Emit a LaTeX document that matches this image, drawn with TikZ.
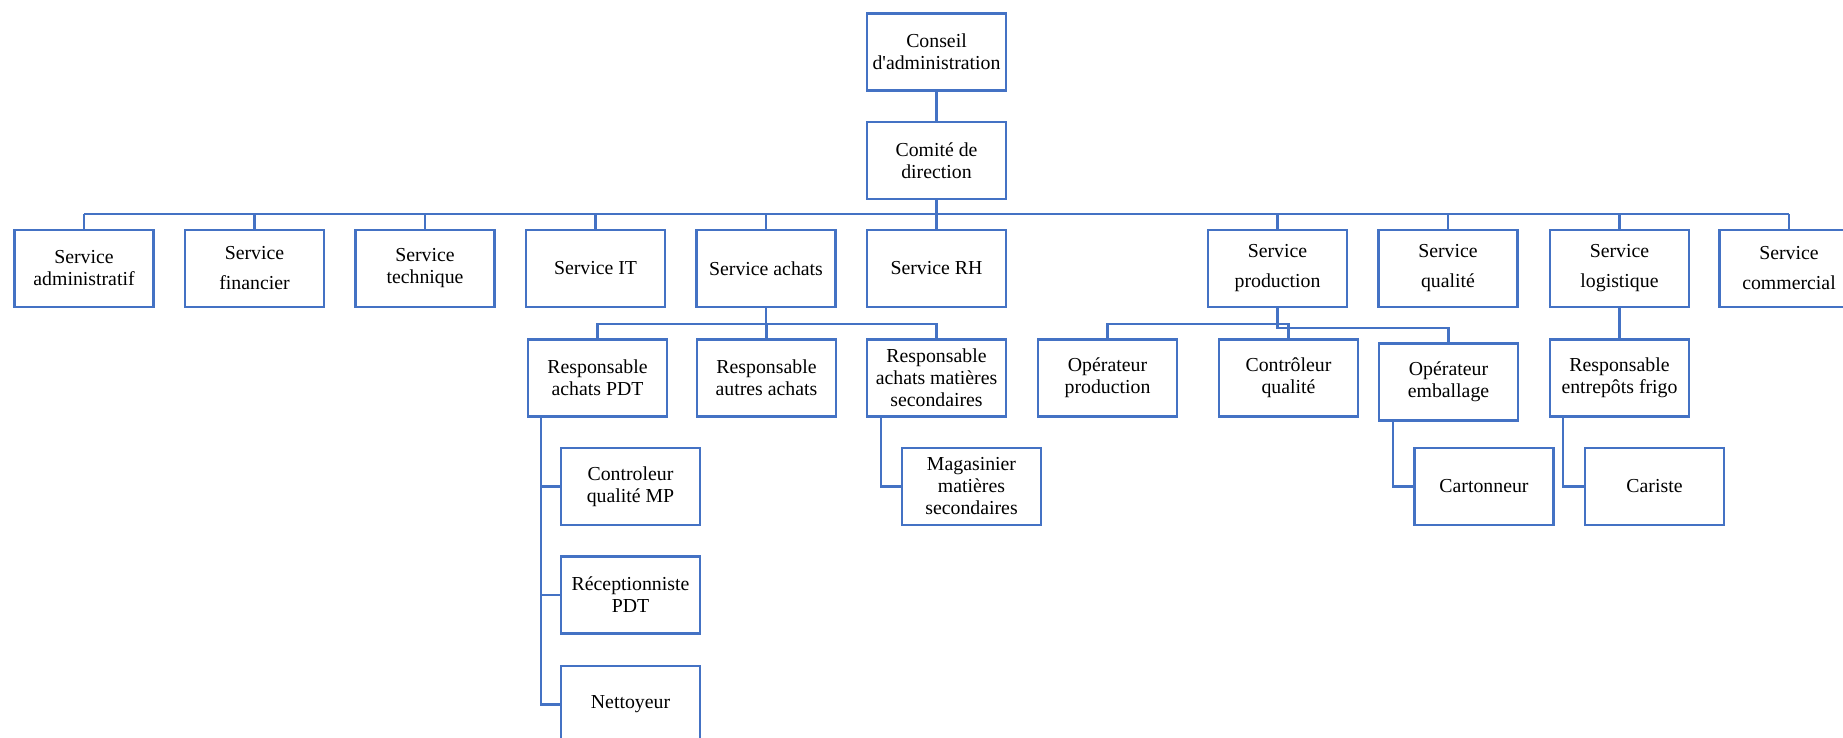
\documentclass[tikz,border=0pt]{standalone}
\usepackage{fontspec}
\setmainfont{Liberation Serif}
\definecolor{orgblue}{HTML}{4472C4}
\tikzset{
  unitbox/.style={draw=orgblue, line width=2.2pt, minimum width=139pt, minimum height=77pt,
    inner sep=1pt, align=center, text=black, font=\fontsize{19.8}{22}\selectfont},
  link/.style={draw=orgblue, line width=2.2pt},
}
\begin{document}
\begin{tikzpicture}[x=1pt,y=-1pt]
\useasboundingbox (0,0) rectangle (1843,738);
\fill[white] (0,0) rectangle (1843,738);
\clip (0,0) rectangle (1843,738);

% top of the hierarchy
\node[unitbox] (conseil) at (936.5,52) {Conseil\\d\textquotesingle administration};
\node[unitbox] (comite) at (936.5,160.5) {Comité de\\direction};

% services
\node[unitbox] (sadm)  at (84,268.5)     {Service\\administratif};
\node[unitbox] (sfin)  at (254.5,268.5)  {Service\\[8pt]financier};
\node[unitbox] (stech) at (425,268.5)    {Service\\technique};
\node[unitbox] (sit)   at (595.5,268.5)  {Service IT};
\node[unitbox] (sach)  at (766,268.5)    {Service achats};
\node[unitbox] (srh)   at (936.5,268.5)  {Service RH};
\node[unitbox] (sprod) at (1277.5,268.5) {Service\\[8pt]production};
\node[unitbox] (squal) at (1448,268.5)   {Service\\[8pt]qualité};
\node[unitbox] (slog)  at (1619.5,268.5) {Service\\[8pt]logistique};
\node[unitbox] (scom)  at (1789,268.5)   {Service\\[8pt]commercial};

% second level
\node[unitbox] (rapdt)  at (597.5,378)  {Responsable\\achats PDT};
\node[unitbox] (raut)   at (766.5,378)  {Responsable\\autres achats};
\node[unitbox] (ramat)  at (936.5,378)  {Responsable\\achats matières\\secondaires};
\node[unitbox] (opprod) at (1107.5,378) {Opérateur\\production};
\node[unitbox] (ctrlq)  at (1288.5,378) {Contrôleur\\qualité};
\node[unitbox] (opemb)  at (1448.5,382) {Opérateur\\emballage};
\node[unitbox] (rfrigo) at (1619.5,378) {Responsable\\entrepôts frigo};

% third level
\node[unitbox] (cqmp)    at (630.5,486.5) {Controleur\\qualité MP};
\node[unitbox] (recep)   at (630.5,595)   {Réceptionniste\\PDT};
\node[unitbox] (nett)    at (630.5,704.5) {Nettoyeur};
\node[unitbox] (mag)     at (971.5,486.5) {Magasinier\\matières\\secondaires};
\node[unitbox] (carton)  at (1484,486.5)  {Cartonneur};
\node[unitbox] (cariste) at (1654.5,486.5) {Cariste};

% bus levels
\coordinate (bus)   at (0,214);
\coordinate (abus)  at (0,324);
\coordinate (pbus)  at (0,324);
\coordinate (pbusb) at (0,328);

% board to committee to services
\draw[link] (conseil) -- (comite);
\draw[link, line width=3pt] (comite.south) -- (comite.south |- bus);
\draw[link] (sadm.north |- bus) -- (scom.north |- bus);
\foreach \s in {sadm,sfin,stech,sit,sach,srh,sprod,squal,slog,scom}
  \draw[link] (\s.north) -- (\s.north |- bus);

% purchasing
\draw[link] (sach.south) -- (sach.south |- abus);
\draw[link] (rapdt.north) -- (rapdt.north |- abus) -- (ramat.north |- abus) -- (ramat.north);
\draw[link] (raut.north) -- (raut.north |- abus);
\draw[link] ([xshift=14pt]rapdt.south west) |- (cqmp.west);
\draw[link] ([xshift=14pt]rapdt.south west) |- (recep.west);
\draw[link] ([xshift=14pt]rapdt.south west) |- (nett.west);
\draw[link] ([xshift=15pt]ramat.south west) |- (mag.west);

% production
\draw[link] (opprod.north) -- (opprod.north |- pbus) -- (ctrlq.north |- pbus) -- (ctrlq.north);
\draw[link] (sprod.south) -- (sprod.south |- pbusb) -- (opemb.north |- pbusb) -- (opemb.north);
\draw[link] ([xshift=15pt]opemb.south west) |- (carton.west);

% logistics
\draw[link] (slog.south) -- (rfrigo.north);
\draw[link] ([xshift=14pt]rfrigo.south west) |- (cariste.west);
\end{tikzpicture}
\end{document}
